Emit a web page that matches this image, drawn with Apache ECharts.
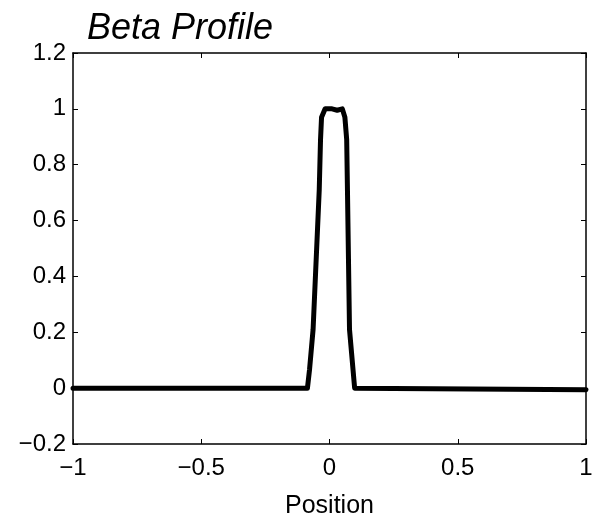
<!DOCTYPE html>
<html>
<head>
<meta charset="utf-8">
<script src="https://cdn.jsdelivr.net/npm/echarts@6/dist/echarts.min.js"></script>
<style>
  html, body { margin: 0; padding: 0; background: #fff; }
  #chart { width: 596px; height: 516px; }
</style>
</head>
<body>
<div id="chart"></div>
<script>
// Beta profile sampled along position
const position = [-1, -0.6, -0.3, -0.086, -0.078, -0.064, -0.04, -0.035, -0.031, -0.017, 0.01, 0.03, 0.05, 0.06, 0.067, 0.07, 0.078, 0.098, 0.4, 0.7, 1];
const beta     = [0.0, 0.0, 0.0, 0.0, 0.065, 0.21, 0.71, 0.89, 0.97, 1.0, 1.0, 0.995, 1.0, 0.97, 0.89, 0.71, 0.21, 0.0, -0.002, -0.004, -0.006];

const xTicks = [-1, -0.5, 0, 0.5, 1];
const yTicks = [-0.2, 0, 0.2, 0.4, 0.6, 0.8, 1, 1.2];

const FONT = 'Liberation Sans';
const fmt = v => {
  const r = Math.round(v * 10) / 10;
  return (r < 0 ? '\u2212' : '') + String(Math.abs(r));
};

const boxLine = { show: true, onZero: false, lineStyle: { color: '#000', width: 1.5 } };
const tickIn = { show: true, inside: true, length: 5, lineStyle: { color: '#000', width: 1 } };

const chart = echarts.init(document.getElementById('chart'), null, { renderer: 'canvas' });
chart.setOption({
  animation: false,
  backgroundColor: '#fff',
  title: {
    text: 'Beta Profile',
    left: 82,
    top: 6,
    textStyle: { fontFamily: FONT, fontStyle: 'italic', fontWeight: 'normal', fontSize: 36, color: '#000' }
  },
  grid: { left: 73, right: 10, top: 53, bottom: 72, containLabel: false, outerBoundsMode: 'none' },
  xAxis: [
    {
      type: 'value', min: xTicks[0], max: xTicks[xTicks.length - 1], interval: 0.5,
      name: 'Position', nameLocation: 'middle', nameGap: 50,
      nameTextStyle: { fontFamily: FONT, fontSize: 25, color: '#000' },
      axisLine: boxLine, axisTick: tickIn,
      axisLabel: { fontFamily: FONT, fontSize: 24, color: '#000', margin: 12, formatter: fmt },
      splitLine: { show: false }
    },
    {
      type: 'value', position: 'top', min: xTicks[0], max: xTicks[xTicks.length - 1], interval: 0.5,
      axisLine: boxLine, axisTick: tickIn, axisLabel: { show: false }, splitLine: { show: false }
    }
  ],
  yAxis: [
    {
      type: 'value', min: yTicks[0], max: yTicks[yTicks.length - 1], interval: 0.2,
      axisLine: boxLine, axisTick: tickIn,
      axisLabel: { fontFamily: FONT, fontSize: 24, color: '#000', margin: 7, formatter: fmt },
      splitLine: { show: false }
    },
    {
      type: 'value', position: 'right', min: yTicks[0], max: yTicks[yTicks.length - 1], interval: 0.2,
      axisLine: boxLine, axisTick: tickIn, axisLabel: { show: false }, splitLine: { show: false }
    }
  ],
  series: [{
    type: 'line',
    xAxisIndex: 0,
    yAxisIndex: 0,
    data: position.map((x, i) => [x, beta[i]]),
    showSymbol: false,
    symbol: 'none',
    smooth: false,
    lineStyle: { color: '#000', width: 5, join: 'round', cap: 'round' }
  }]
});
</script>
</body>
</html>
